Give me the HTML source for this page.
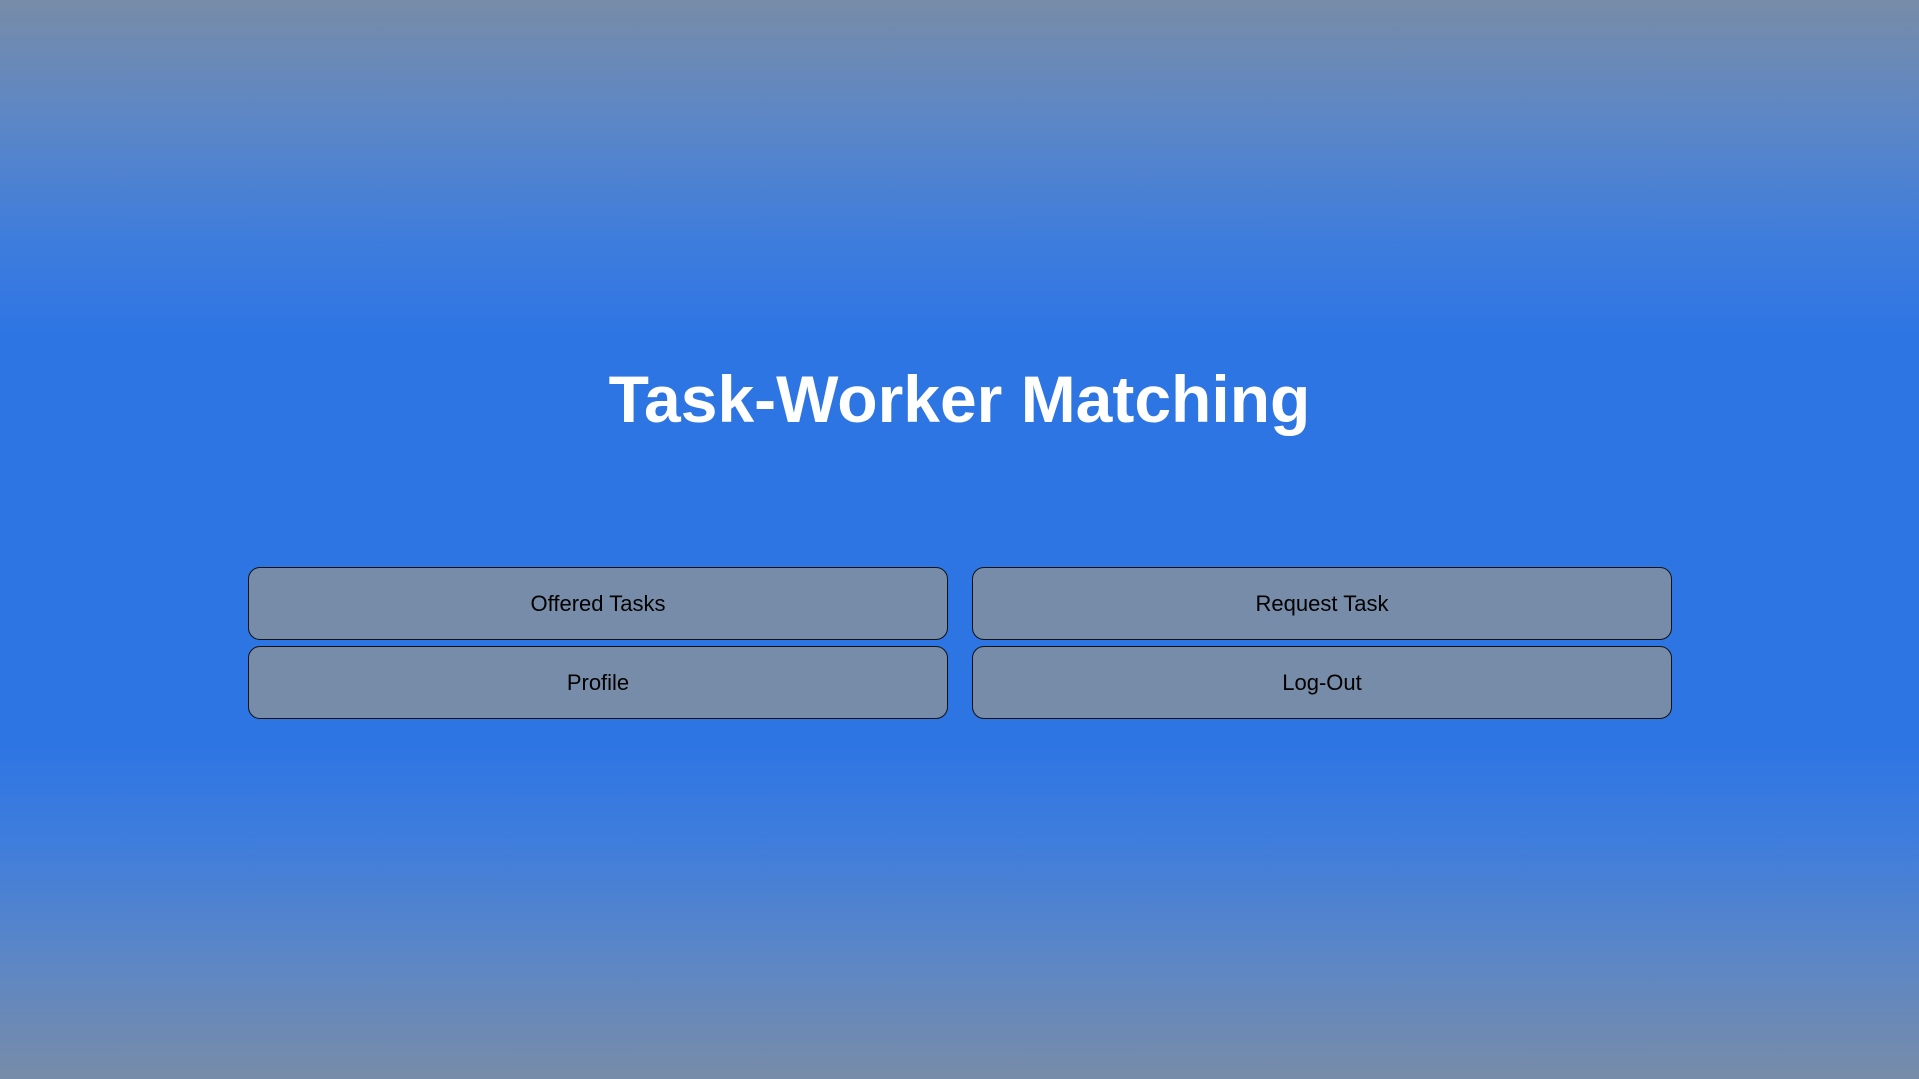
<!DOCTYPE html>
<html><head><style>
html,body{margin:0;padding:0;}
body{width:1919px;height:1079px;overflow:hidden;position:relative;
background:linear-gradient(to bottom,#778ca8 0%,#5a86c8 12%,#3f7ddc 22%,#2e75e4 31%,#2e75e4 69%,#3f7ddc 78%,#5a86c8 88%,#778ca8 100%);
font-family:"Liberation Sans",sans-serif;}
h1{position:absolute;top:356px;left:0;width:1919px;text-align:center;margin:0;color:#fff;font-size:66px;font-weight:bold;line-height:86px;}
.b{position:absolute;width:700px;height:73px;background:#778ca8;border:1px solid #111;border-radius:12px;box-sizing:border-box;
display:flex;align-items:center;justify-content:center;font-size:22px;color:#000;}
</style></head><body>
<h1>Task-Worker Matching</h1>
<div class="b" style="left:248px;top:567px">Offered Tasks</div>
<div class="b" style="left:972px;top:567px">Request Task</div>
<div class="b" style="left:248px;top:646px">Profile</div>
<div class="b" style="left:972px;top:646px">Log-Out</div>
</body></html>
